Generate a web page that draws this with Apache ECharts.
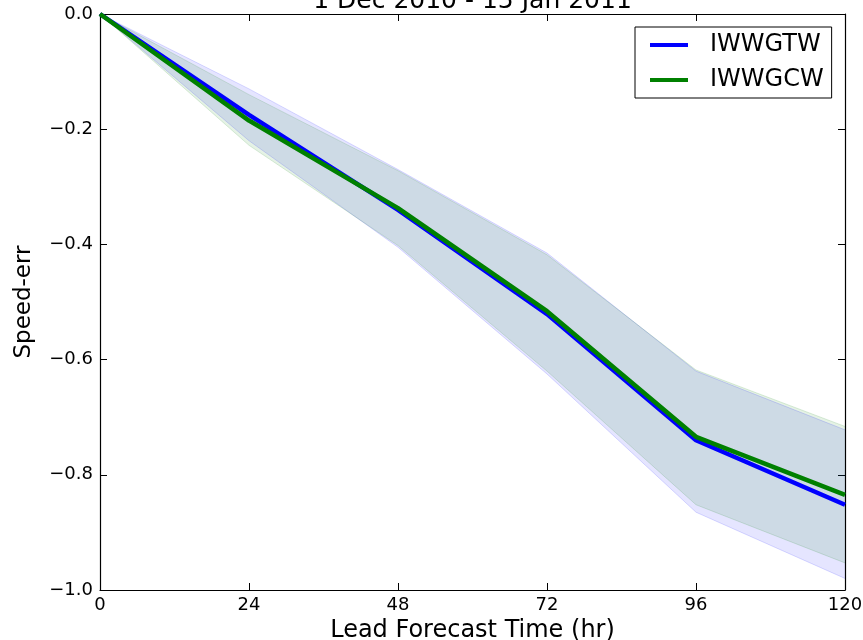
<!DOCTYPE html>
<html><head><meta charset="utf-8">
<script src="https://cdn.jsdelivr.net/npm/echarts@6/dist/echarts.min.js"></script>
<style>html,body{margin:0;padding:0;background:#fff}#c{width:863px;height:640px}</style>
</head><body><div id="c"></div>
<script>
const leadHours = [0, 24, 48, 72, 96, 120];
const gtwMean  = [0, -0.175, -0.340, -0.521, -0.740, -0.852];
const gcwMean  = [0, -0.185, -0.337, -0.516, -0.734, -0.835];
const gtwUpper = [0, -0.130, -0.270, -0.415, -0.620, -0.722];
const gtwLower = [0, -0.220, -0.405, -0.625, -0.865, -0.980];
const gcwUpper = [0, -0.140, -0.272, -0.418, -0.618, -0.716];
const gcwLower = [0, -0.228, -0.402, -0.620, -0.852, -0.953];
const seriesNames = ['IWWGTW', 'IWWGCW'];
const titleText = '1 Dec 2010 - 15 Jan 2011';
const xName = 'Lead Forecast Time (hr)';
const yName = 'Speed-err';

const diffs = (up, lo) => up.map((u, i) => +(u - lo[i]).toFixed(4));
const FONT = 'DejaVu Sans';

function band(name, lo, up, rgb, alpha) {
  const fill = `rgba(${rgb},${alpha})`;
  const edge = `rgba(${rgb},${alpha + 0.04})`;
  return [
    { name: name + ' low', type: 'line', stack: name, stackStrategy: 'all', data: lo.slice(),
      symbol: 'none', lineStyle: { width: 1, color: edge }, silent: true },
    { name: name + ' band', type: 'line', stack: name, stackStrategy: 'all', data: diffs(up, lo),
      symbol: 'none', lineStyle: { width: 1, color: edge }, areaStyle: { color: fill, opacity: 1 }, silent: true }
  ];
}

const chart = echarts.init(document.getElementById('c'), null, { renderer: 'canvas' });
const mkLine = () => ({ show: true, onZero: false, lineStyle: { color: '#000', width: 1.2 } });
const mkTick = () => ({ show: true, inside: true, length: 7, alignWithLabel: true, lineStyle: { color: '#000', width: 1 } });
const cats = leadHours.map(String);
chart.setOption({
  animation: false,
  backgroundColor: '#fff',
  grid: { left: 100, right: 18, top: 14, bottom: 50, containLabel: false, outerBoundsMode: 'none' },
  graphic: [{
    type: 'text', x: 472.5, y: -11, z: 100,
    style: { text: titleText, textAlign: 'center', textVerticalAlign: 'top',
      font: '25px "DejaVu Sans"', fill: '#000' }
  }],
  legend: {
    data: seriesNames, orient: 'vertical', left: 635, top: 27,
    padding: [6, 8, 6, 15], itemGap: 11, itemWidth: 38, itemHeight: 4, icon: 'rect',
    borderColor: '#000', borderWidth: 1, backgroundColor: '#fff', borderRadius: 0,
    textStyle: { fontFamily: FONT, fontSize: 24, color: '#000', lineHeight: 24, padding: [0, 0, 0, 17] }
  },
  xAxis: [
    {
      type: 'category', data: cats, boundaryGap: false, position: 'bottom',
      axisLine: mkLine(), axisTick: mkTick(), splitLine: { show: false },
      name: xName, nameLocation: 'middle', nameGap: 24,
      nameTextStyle: { fontFamily: FONT, fontSize: 24, color: '#000' },
      axisLabel: { show: true, margin: 6, fontFamily: FONT, fontSize: 18, color: '#000' }
    },
    {
      type: 'category', data: cats, boundaryGap: false, position: 'top',
      axisLine: mkLine(), axisTick: mkTick(), splitLine: { show: false },
      axisLabel: { show: false }
    }
  ],
  yAxis: [
    {
      type: 'value', min: -1, max: 0, interval: 0.2, position: 'left',
      axisLine: mkLine(), axisTick: mkTick(), splitLine: { show: false },
      name: yName, nameLocation: 'middle', nameGap: 64, nameRotate: 90,
      nameTextStyle: { fontFamily: FONT, fontSize: 23, color: '#000' },
      axisLabel: { show: true, margin: 7, fontFamily: FONT, fontSize: 18, color: '#000',
        formatter: (v) => (Math.abs(v) < 1e-9 ? '0.0' : '\u2212' + Math.abs(v).toFixed(1)) }
    },
    {
      type: 'value', min: -1, max: 0, interval: 0.2, position: 'right',
      axisLine: mkLine(), axisTick: mkTick(), splitLine: { show: false },
      axisLabel: { show: false }
    }
  ],
  series: [
    ...band('IWWGTW', gtwLower, gtwUpper, '0,0,255', 0.1),
    ...band('IWWGCW', gcwLower, gcwUpper, '0,128,0', 0.1),
    { name: seriesNames[0], type: 'line', data: gtwMean.slice(), symbol: 'none',
      lineStyle: { color: '#0000ff', width: 4.5 }, itemStyle: { color: '#0000ff' } },
    { name: seriesNames[1], type: 'line', data: gcwMean.slice(), symbol: 'none',
      lineStyle: { color: '#008000', width: 4.5 }, itemStyle: { color: '#008000' } }
  ]
});
</script></body></html>
